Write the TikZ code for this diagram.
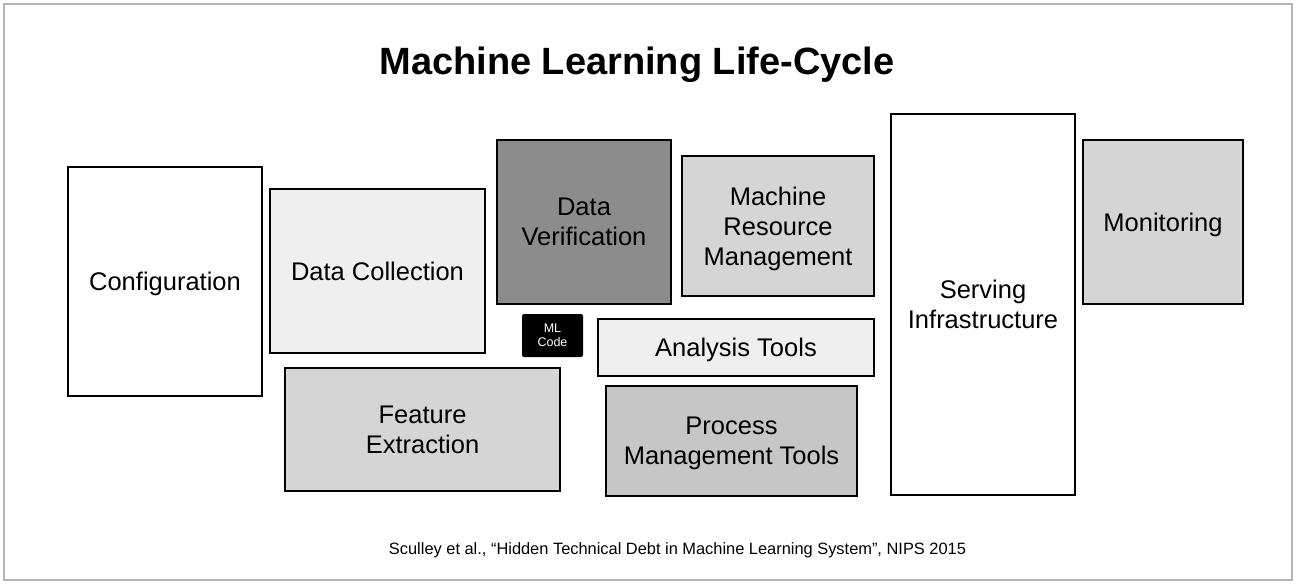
\documentclass[tikz,border=0pt]{standalone}
\usepackage{fontspec}
\setmainfont{Liberation Sans}
\usepackage{xcolor}
\usepackage{tikz}
\usetikzlibrary{positioning}
\definecolor{framegray}{RGB}{180,180,180}
\definecolor{paleGray}{RGB}{239,239,239}
\definecolor{midGray}{RGB}{213,213,213}
\definecolor{procGray}{RGB}{198,198,198}
\definecolor{darkGray}{RGB}{140,140,140}
\tikzset{
  block/.style={rectangle,draw=black,line width=2.2pt,fill=white,align=center,
                font=\fontsize{25.5}{30}\selectfont,inner sep=0pt,text depth=-7pt},
  codebox/.style={rectangle,rounded corners=2pt,fill=black,text=white,align=center,
                font=\fontsize{12.5}{14}\selectfont,inner sep=0pt,text depth=-3pt},
  title/.style={font=\fontsize{38}{40}\selectfont\bfseries},
  credit/.style={font=\fontsize{16.4}{18}\selectfont},
}

\begin{document}
\begin{tikzpicture}[x=1pt,y=-1pt]
  \useasboundingbox (0,0) rectangle (1296,584);
  \draw[framegray,line width=2pt] (4,4) rectangle (1292,580);
  \node[title] (head) at (637,65) {Machine Learning Life-Cycle};
  % left group
  \node[block,minimum width=194,minimum height=229] (conf) at (165,281.5) {Configuration};
  \node[block,fill=paleGray,minimum width=215,minimum height=164] (collect) at (377.5,271) {Data Collection};
  \node[block,fill=midGray,minimum width=275,minimum height=123] (feature) at (422.5,429.5) {Feature\\Extraction};
  % middle group
  \node[block,fill=darkGray,minimum width=174,minimum height=164] (verify) at (584,222) {Data\\Verification};
  \node[block,fill=midGray,minimum width=192,minimum height=140] (resource) at (778,226) {Machine\\Resource\\Management};
  \node[codebox,minimum width=61,minimum height=43] (mlcode) at (552.5,335.5) {ML\\Code};
  \node[block,fill=paleGray,minimum width=276,minimum height=57] (analysis) at (736,347.5) {Analysis Tools};
  \node[block,fill=procGray,minimum width=251,minimum height=110] (process) at (731.5,441) {Process\\Management Tools};
  % right group
  \node[block,minimum width=184,minimum height=381] (serving) at (983,304.5) {Serving\\Infrastructure};
  \node[block,fill=midGray,minimum width=160,minimum height=164] (monitor) at (1163,222) {Monitoring};
  \node[credit] (cite) at (677.5,550) {Sculley et al., “Hidden Technical Debt in Machine Learning System”, NIPS 2015};
\end{tikzpicture}
\end{document}
